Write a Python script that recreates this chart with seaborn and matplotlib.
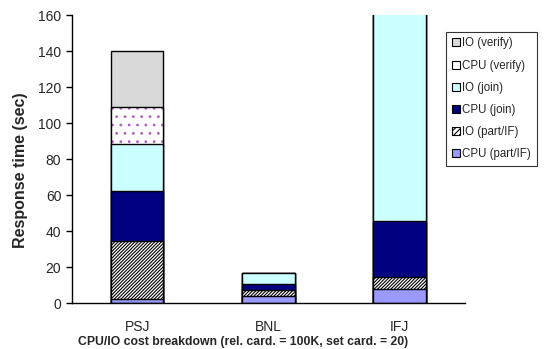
import matplotlib
matplotlib.use("Agg")
import matplotlib.pyplot as plt
from matplotlib.patches import Patch
import numpy as np
import seaborn as sns

# Cost components (seconds) per join algorithm, bottom to top
methods = ["PSJ", "BNL", "IFJ"]
cpu_part = [2.0, 4.0, 8.0]
io_part = [32.3, 3.0, 6.3]
cpu_join = [28.0, 3.3, 31.3]
io_join = [25.8, 6.5, 150.0]
cpu_verify = [21.0, 0.0, 0.0]
io_verify = [31.0, 0.0, 0.0]

layers = [
    ("CPU (part/IF)", cpu_part, "#9999FF", None),
    ("IO (part/IF)", io_part, "white", "//////////"),
    ("CPU (join)", cpu_join, "#000080", None),
    ("IO (join)", io_join, "#CCFFFF", None),
    ("CPU (verify)", cpu_verify, "white", ".."),
    ("IO (verify)", io_verify, "#D9D9D9", None),
]

sns.set_style("white")
plt.rcParams["font.family"] = ["Liberation Sans", "DejaVu Sans"]
plt.rcParams["hatch.linewidth"] = 0.8

fig = plt.figure(figsize=(5.45, 3.49), dpi=100)
ax = fig.add_axes([0.1316, 0.1318, 0.7214, 0.8252])

cum = np.cumsum([np.array(v) for _, v, _, _ in layers], axis=0)

# Draw cumulative totals from the top layer downward so each segment shows
for i in range(len(layers) - 1, -1, -1):
    name, vals, color, hatch = layers[i]
    top = cum[i]
    if name == "CPU (verify)":
        sns.barplot(x=methods, y=top, color=color, edgecolor="#B060C0",
                    linewidth=0, hatch=hatch, width=0.4, saturation=1,
                    errorbar=None, ax=ax)
        sns.barplot(x=methods, y=top, fill=False, edgecolor="black",
                    linewidth=1, width=0.4, errorbar=None, ax=ax)
    else:
        sns.barplot(x=methods, y=top, color=color, edgecolor="black",
                    linewidth=1, hatch=hatch, width=0.4, saturation=1,
                    errorbar=None, ax=ax)

ax.set_xlim(-0.5, 2.5)
ax.set_ylim(0, 160)
ax.set_yticks(range(0, 161, 20))
ax.set_xticks([0, 1, 2])
ax.set_xticklabels(methods)
ax.set_xticks([-0.5, 0.5, 1.5, 2.5], minor=True)
ax.tick_params(axis="x", which="major", length=0, labelsize=10, pad=12)
ax.tick_params(axis="x", which="minor", length=4, width=1, color="black", direction="out")
ax.tick_params(axis="y", length=4, width=1, color="black", direction="out", labelsize=10, left=True)

for s in ["top", "right"]:
    ax.spines[s].set_visible(False)
for s in ["left", "bottom"]:
    ax.spines[s].set_color("black")
    ax.spines[s].set_linewidth(1)

ax.set_ylabel("Response time (sec)", fontsize=11.5, fontweight="bold")
ax.yaxis.set_label_coords(-0.112, 0.46)
ax.set_xlabel("CPU/IO cost breakdown (rel. card. = 100K, set card. = 20)",
              fontsize=8.8, fontweight="bold")
ax.xaxis.set_label_coords(0.435, -0.115)

handles = []
for name, vals, color, hatch in reversed(layers):
    if name == "CPU (verify)":
        handles.append(Patch(facecolor="white", edgecolor="black", linewidth=0.8, label=name))
    else:
        handles.append(Patch(facecolor=color, edgecolor="black", linewidth=0.8,
                             hatch=("//////" if hatch else None), label=name))

leg = fig.legend(handles=handles, loc="upper left",
                 bbox_to_anchor=(446 / 545, 1 - 31.7 / 349),
                 fontsize=8.3, frameon=True, fancybox=False, edgecolor="black",
                 handlelength=0.7, handleheight=0.7, handletextpad=0.2,
                 labelspacing=0.88, borderpad=0.5, borderaxespad=0)
leg.get_frame().set_linewidth(0.8)

fig.savefig("out.png", dpi=100)
